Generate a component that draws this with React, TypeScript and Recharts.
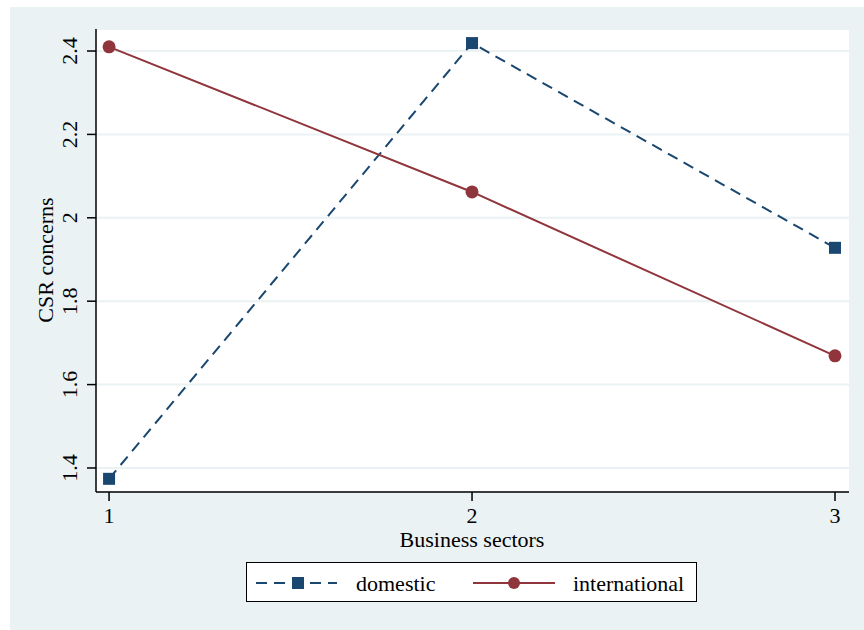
import { LineChart, Line, XAxis, YAxis, CartesianGrid } from "recharts";

const SECTORS = [1, 2, 3];
const DOMESTIC = [1.374, 2.419, 1.928];
const INTERNATIONAL = [2.41, 2.062, 1.669];
const Y_TICKS = [1.4, 1.6, 1.8, 2, 2.2, 2.4];

const DATA = SECTORS.map((s, i) => ({
  sector: s,
  domestic: DOMESTIC[i],
  international: INTERNATIONAL[i],
}));

const NAVY = "#1a476f";
const RED = "#90353b";
const BG = "#eaf2f3";
const FONT = "'Liberation Serif', 'Times New Roman', serif";
const FS = 22;

const SquareDot = (props: any) => {
  const { cx, cy } = props;
  if (cx == null || cy == null) return null;
  return <rect x={cx - 6} y={cy - 6} width={12} height={12} fill={NAVY} />;
};

const CircleDot = (props: any) => {
  const { cx, cy } = props;
  if (cx == null || cy == null) return null;
  return <circle cx={cx} cy={cy} r={6.5} fill={RED} />;
};

const YTick = (props: any) => {
  const { y, payload } = props;
  return (
    <text
      x={70}
      y={y}
      transform={`rotate(-90 70 ${y})`}
      textAnchor="middle"
      dominantBaseline="central"
      fontFamily={FONT}
      fontSize={FS}
      fill="#000"
    >
      {String(payload.value)}
    </text>
  );
};

const XTick = (props: any) => {
  const { x, payload } = props;
  return (
    <text x={x} y={523} textAnchor="middle" fontFamily={FONT} fontSize={FS} fill="#000">
      {payload.value}
    </text>
  );
};

const XLabel = () => (
  <text x={472} y={547} textAnchor="middle" fontFamily={FONT} fontSize={FS} fill="#000">
    Business sectors
  </text>
);

const YLabel = () => (
  <text
    x={45}
    y={260}
    transform="rotate(-90 45 260)"
    textAnchor="middle"
    dominantBaseline="central"
    fontFamily={FONT}
    fontSize={FS}
    fill="#000"
  >
    CSR concerns
  </text>
);

export default function App() {
  return (
    <div style={{ position: "absolute", left: 0, top: 0, width: 864, height: 630, background: "#fff" }}>
      <div style={{ position: "absolute", left: 10, top: 7, width: 854, height: 623, background: BG }} />
      <div style={{ position: "absolute", left: 0, top: 0 }}>
        <LineChart
          width={864}
          height={630}
          data={DATA}
          margin={{ top: 29, right: 15, left: 0, bottom: 0 }}
        >
          <CartesianGrid vertical={false} stroke={BG} strokeWidth={2} fill="#fff" />
          <XAxis
            dataKey="sector"
            type="number"
            domain={[0.964, 3.0386]}
            ticks={SECTORS}
            height={138}
            tickSize={9}
            stroke="#000"
            strokeWidth={1.5}
            tick={<XTick />}
            label={<XLabel />}
          />
          <YAxis
            type="number"
            domain={[1.3424, 2.4528]}
            ticks={Y_TICKS}
            width={96}
            tickSize={9}
            stroke="#000"
            strokeWidth={1.5}
            tick={<YTick />}
            label={<YLabel />}
          />
          <Line
            dataKey="domestic"
            stroke={NAVY}
            strokeWidth={2}
            strokeDasharray="11 7"
            dot={<SquareDot />}
            isAnimationActive={false}
          />
          <Line
            dataKey="international"
            stroke={RED}
            strokeWidth={2}
            dot={<CircleDot />}
            isAnimationActive={false}
          />
        </LineChart>
      </div>
      <div
        style={{
          position: "absolute",
          left: 246,
          top: 562,
          width: 449,
          height: 38,
          border: "1.5px solid #000",
          background: "#fff",
        }}
      >
        <svg width={449} height={38} style={{ position: "absolute", left: 0, top: 0 }}>
          <line x1={9} y1={20} x2={90} y2={20} stroke={NAVY} strokeWidth={2} strokeDasharray="11 7" />
          <rect x={45} y={14} width={12} height={12} fill={NAVY} />
          <text x={109} y={28} fontFamily={FONT} fontSize={FS} fill="#000">domestic</text>
          <line x1={226} y1={20} x2={308} y2={20} stroke={RED} strokeWidth={2} />
          <circle cx={267} cy={20} r={6} fill={RED} />
          <text x={326} y={28} fontFamily={FONT} fontSize={FS} fill="#000">international</text>
        </svg>
      </div>
    </div>
  );
}
